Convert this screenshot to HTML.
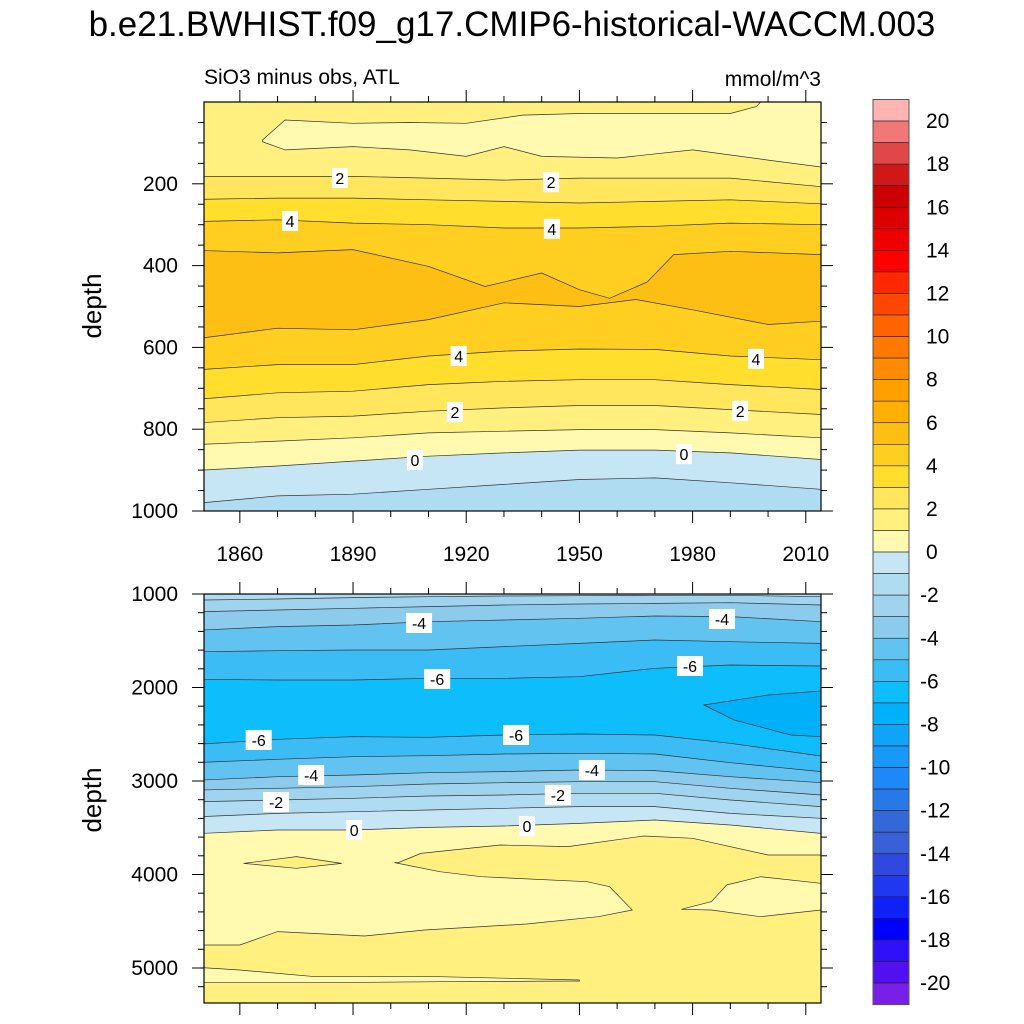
<!DOCTYPE html>
<html><head><meta charset="utf-8"><style>
html,body{margin:0;padding:0;background:#fff;}
svg{display:block;font-family:"Liberation Sans",Arial,sans-serif;}
</style></head><body>
<svg id="chart" width="1024" height="1024" viewBox="0 0 1024 1024" xmlns="http://www.w3.org/2000/svg">
<defs>
<clipPath id="clipTop"><rect x="204" y="102" width="617" height="409"/></clipPath>
<clipPath id="clipBot"><rect x="204" y="594" width="617" height="409"/></clipPath>
</defs>
<text x="512" y="36" font-size="35" text-anchor="middle">b.e21.BWHIST.f09_g17.CMIP6-historical-WACCM.003</text>
<text x="204" y="84" font-size="21">SiO3 minus obs, ATL</text>
<text x="821" y="86" font-size="21" text-anchor="end">mmol/m^3</text>
<text x="0" y="0" font-size="26" text-anchor="middle" transform="translate(101,306) rotate(-90)">depth</text>
<text x="0" y="0" font-size="26" text-anchor="middle" transform="translate(101,800) rotate(-90)">depth</text>
<g id="topPlot" clip-path="url(#clipTop)"></g>
<g id="botPlot" clip-path="url(#clipBot)"></g>
<g id="axes"></g>
<g id="labels"></g>
<g id="cbar"></g>
</svg>
<script>
// ---------- data ----------
const gridYears = [1850,1870,1890,1910,1930,1950,1970,1990,2014];
// top panel contour depths (m)
const topL2 = [182,182,182,186,191,186,186,186,207];
const topL3 = [238,235,235,239,243,247,243,239,249];
const topL4 = [292,288,296,300,308,308,304,296,300];
const topCoreUpYears = [1850,1870,1890,1910,1925,1940,1950,1958,1968,1975,1990,2014];
const topCoreUpDepths = [363,369,361,402,451,418,459,480,440,373,365,373];
const topCoreLoYears = [1850,1870,1890,1910,1930,1950,1965,1980,2000,2014];
const topCoreLoDepths = [577,553,557,532,491,500,483,508,544,536];
const topL4b = [654,642,642,621,609,604,605,621,630];
const topL3b = [726,711,707,691,683,679,679,691,703];
const topL2b = [784,772,768,756,748,742,742,752,764];
const topL1b = [837,829,821,809,805,801,801,809,821];
const topL0b = [900,890,878,866,858,851,851,858,874];
const topLm1b = [980,963,959,947,935,923,919,931,947];
const blobYears = [1866,1872,1890,1905,1920,1935,1950,1970,1990,1997,1998,2014,2014,2000,1980,1960,1940,1930,1920,1905,1890,1872,1866];
const blobDepths = [93,44,52,50,52,32,28,28,28,11,0,0,159,142,117,137,133,109,133,117,109,117,97];
// bottom panel contour depths (m)
const botA = [1064,1053,1039,1029,1021,1018,1014,1014,1029];
const botB = [1189,1171,1153,1135,1118,1107,1100,1093,1118];
const botC = [1385,1349,1332,1296,1278,1260,1235,1242,1296];
const botD = [1617,1606,1599,1599,1563,1528,1492,1510,1528];
const botE = [1913,1920,1920,1902,1902,1884,1795,1759,1770];
const darkYears = [1983,2000,2014,2014,2006,1991];
const darkDepths = [2187,2080,2037,2526,2508,2348];
const botEb = [2604,2554,2526,2533,2508,2497,2508,2597,2733];
const botDb = [2800,2768,2740,2729,2711,2704,2711,2804,2900];
const botCb = [2989,2954,2936,2911,2900,2882,2889,2954,3018];
const botBb = [3096,3078,3061,3032,3018,3007,3007,3078,3150];
const botAb = [3221,3203,3185,3160,3150,3132,3132,3203,3274];
const botM1 = [3381,3346,3328,3310,3292,3274,3274,3346,3399];
const bot0 = [3560,3524,3524,3496,3481,3453,3417,3471,3560];
const yelYears = [1901,1902,1908,1929,1947,1967,1980,2000,2014,2014,1850,1850,1860,1870,1893,1909,1936,1955,1964,1958,1952,1924,1913,1901];
const yelDepths = [3873,3873,3774,3684,3702,3588,3613,3791,3791,5378,5378,4754,4754,4611,4658,4594,4529,4451,4380,4130,4077,4023,3970,3873];
const paleRYears = [1977,1985,1989,1998,2014,2014,1998,1985];
const paleRDepths = [4372,4290,4112,4023,4094,4380,4451,4380];
const paleBYears = [1850,1860,1880,1913,1950,1950,1913,1880,1850];
const paleBDepths = [4996,5021,5093,5093,5128,5139,5146,5157,5157];
const smallYears = [1861,1875,1887,1875];
const smallDepths = [3881,3809,3881,3934];
// labels
const topLabText = ["2","2","4","4","4","4","2","2","0","0"];
const topLabYear = [1886.5,1942.5,1873.3,1942.7,1918,1996.8,1917,1992.6,1906.4,1977.7];
const topLabDepth = [186,196,291,310,621,628,758,755,875,861];
const botLabText = ["-4","-4","-6","-6","-6","-6","-4","-4","-2","-2","0","0"];
const botLabYear = [1907.5,1987.8,1912.3,1979.3,1865,1933.2,1878.9,1953.3,1869.6,1944.3,1890.3,1936.1];
const botLabDepth = [1310,1267,1909,1770,2561,2508,2936,2882,3225,3150,3524,3481];
// colorbar
const cbLevels = [20,18,16,14,12,10,8,6,4,2,0,-2,-4,-6,-8,-10,-12,-14,-16,-18,-20];
const cbColors = ["#ffb3b3","#f07878","#e04848","#d01818","#cc0000","#dd0000","#ee0000","#ff0000","#ff2800","#ff4600","#ff6400","#ff7800","#ff8c00","#ffa000","#ffb000","#fdbf14","#fecf20","#ffde2e","#ffe65c","#fff080","#fffab0","#c6e6f6","#b0dcf2","#a0d4ee","#8ccbec","#62c3f0","#3cbcf5","#0ebefc","#00b0f8","#0ea4f8","#1898f8","#1e88f8","#2878e8","#3468d8","#3a60d8","#3048e0","#2038f0","#1020f8","#0000ff","#3010f8","#5010f0","#7820e8"];
// ---------- scales ----------
const NS="http://www.w3.org/2000/svg";
function X(yr){return 204+(yr-1850.5)*3.773;}
function YT(d){return 102+d*0.409;}
function YB(d){return 594+(d-1000)*0.0935;}
function col(v){return cbColors[20-v];} // colour for band [v, v+1]
function mk(tag,attrs,parent){const e=document.createElementNS(NS,tag);for(const k in attrs)e.setAttribute(k,attrs[k]);parent.appendChild(e);return e;}
function pts(ys,ds,Y){return ys.map((y,i)=>X(y).toFixed(1)+","+Y(ds[i]).toFixed(1));}
function fillBelow(g,ds,color,Y,bottom,name){
  const p=pts(gridYears,ds,Y);p.push(X(2020)+","+Y(bottom),X(1840)+","+Y(bottom));
  const e=mk("polygon",{points:p.join(" ")+" "+X(1840)+","+Y(ds[0]),fill:color},g);
  
  
}
function line(g,ys,ds,Y,name){
  const e=mk("polyline",{points:pts(ys,ds,Y).join(" "),fill:"none",stroke:"#333",'stroke-width':0.7},g);
  
  
}
function poly(g,ys,ds,Y,color,name){
  const e=mk("polygon",{points:pts(ys,ds,Y).join(" "),fill:color,stroke:"#333",'stroke-width':0.7},g);
  
  
}
// ---------- top panel ----------
const gt=document.getElementById("topPlot");
const bg1=mk("rect",{x:200,y:100,width:630,height:420,fill:col(1)},gt);


fillBelow(gt,topL2,col(2),YT,1000,'top-2');
fillBelow(gt,topL3,col(3),YT,1000,'top-3');
fillBelow(gt,topL4,col(4),YT,1000,'top-4');
poly(gt,topCoreUpYears.concat(topCoreLoYears.slice().reverse()),topCoreUpDepths.concat(topCoreLoDepths.slice().reverse()),YT,col(5),'top-core-5');
fillBelow(gt,topL4b,col(3),YT,1000,'top-lower-4');
fillBelow(gt,topL3b,col(2),YT,1000,'top-lower-3');
fillBelow(gt,topL2b,col(1),YT,1000,'top-lower-2');
fillBelow(gt,topL1b,col(0),YT,1000,'top-lower-1');
fillBelow(gt,topL0b,col(-1),YT,1000,'top-lower-0');
fillBelow(gt,topLm1b,col(-2),YT,1000,'top-lower-m1');
[topL2,topL3,topL4,topL4b,topL3b,topL2b,topL1b,topL0b,topLm1b].forEach((d,i)=>line(gt,gridYears,d,YT,'top-contour-'+i));
poly(gt,blobYears,blobDepths,YT,col(0),'top-pale-blob');
// ---------- bottom panel ----------
const gb=document.getElementById("botPlot");
const bg2=mk("rect",{x:200,y:590,width:630,height:420,fill:col(-2)},gb);


fillBelow(gb,botA,col(-3),YB,5400,'bot-a');
fillBelow(gb,botB,col(-4),YB,5400,'bot-b');
fillBelow(gb,botC,col(-5),YB,5400,'bot-c');
fillBelow(gb,botD,col(-6),YB,5400,'bot-d');
fillBelow(gb,botE,col(-7),YB,5400,'bot-e');
poly(gb,darkYears,darkDepths,YB,col(-8),'bot-dark-core');
fillBelow(gb,botEb,col(-6),YB,5400,'bot-eb');
fillBelow(gb,botDb,col(-5),YB,5400,'bot-db');
fillBelow(gb,botCb,col(-4),YB,5400,'bot-cb');
fillBelow(gb,botBb,col(-3),YB,5400,'bot-bb');
fillBelow(gb,botAb,col(-2),YB,5400,'bot-ab');
fillBelow(gb,botM1,col(-1),YB,5400,'bot-m1');
fillBelow(gb,bot0,col(0),YB,5400,'bot-0');
[botA,botB,botC,botD,botE,botEb,botDb,botCb,botBb,botAb,botM1,bot0].forEach((d,i)=>line(gb,gridYears,d,YB,'bot-contour-'+i));
poly(gb,yelYears,yelDepths,YB,col(1),'bot-yellow-region');
poly(gb,paleRYears,paleRDepths,YB,col(0),'bot-pale-right');
poly(gb,paleBYears,paleBDepths,YB,col(0),'bot-pale-strip');
poly(gb,smallYears,smallDepths,YB,col(1),'bot-small-blob');
// ---------- axes ----------
const ga=document.getElementById("axes");
function tick(x1,y1,x2,y2,name){const e=mk("line",{x1:x1,y1:y1,x2:x2,y2:y2,stroke:"#000",'stroke-width':1},ga);}
function txt(x,y,s,size,anchor,name,parent){const e=mk("text",{x:x,y:y,'font-size':size,'text-anchor':anchor},parent||ga);e.textContent=s;return e;}
[[102,511],[594,1003]].forEach(([t,b],pi)=>{
  const fr=mk("rect",{x:204,y:t,width:617,height:b-t,fill:"none",stroke:"#000",'stroke-width':1.2},ga);
  
  
  for(let yr=1860;yr<=2014;yr+=10){const x=X(yr);const L=(yr-1860)%30===0?12:6;
    tick(x,t,x,t-L,'x-tick');tick(x,b,x,b+L,'x-tick');}
});
for(let d=50;d<=1000;d+=50){const y=YT(d);const L=d%200===0?12:6;tick(204,y,204-L,y,'y-tick');tick(821,y,821+L,y,'y-tick');
  if(d%200===0)txt(178,y+7,String(d),21,"end",'y-tick-label-top');}
for(let d=1000;d<=5375;d+=200){const y=YB(d);const L=d%1000===0?12:6;tick(204,y,204-L,y,'y-tick');tick(821,y,821+L,y,'y-tick');
  if(d%1000===0)txt(178,y+7,String(d),21,"end",'y-tick-label-bottom');}
for(let yr=1860;yr<=2010;yr+=30)txt(X(yr),561,String(yr),21,"middle",'x-tick-label');
// ---------- contour labels ----------
const gl=document.getElementById("labels");
function clabel(x,y,s){const w=s.length*10+6;const r=mk("rect",{x:x-w/2,y:y-10,width:w,height:20,fill:"#fff"},gl);
  
  txt(x,y+6,s,16,"middle",'contour-label',gl);}
topLabText.forEach((s,i)=>clabel(X(topLabYear[i]),YT(topLabDepth[i]),s));
botLabText.forEach((s,i)=>clabel(X(botLabYear[i]),YB(botLabDepth[i]),s));
// ---------- colorbar ----------
const gc=document.getElementById("cbar");
const cbTop=99.5, cbStep=21.55;
cbColors.forEach((c,i)=>{const r=mk("rect",{x:873,y:cbTop+i*cbStep,width:36,height:cbStep,fill:c,stroke:"#222",'stroke-width':0.6},gc);
  });
const cbf=mk("rect",{x:873,y:cbTop,width:36,height:cbStep*42,fill:"none",stroke:"#555",'stroke-width':1},gc);

cbLevels.forEach(v=>{const y=cbTop+(21-v)*cbStep;txt(v<0?920:926,y+7,String(v),21,"start",'colorbar-label',gc);});
</script>
</body></html>
